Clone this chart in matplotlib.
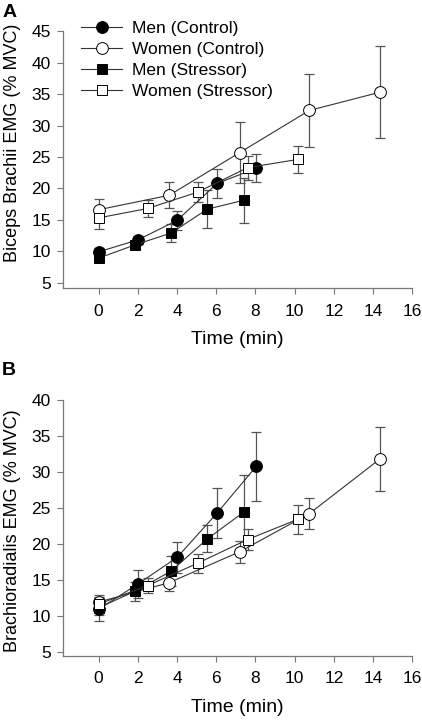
import numpy as np
import matplotlib.pyplot as plt

plt.rcParams['font.family'] = ['Liberation Sans', 'DejaVu Sans']

series = ['Men (Control)', 'Women (Control)', 'Men (Stressor)', 'Women (Stressor)']

# Panel A - biceps brachii
a_men_ctrl_t = [0, 2.0, 4.0, 6.05, 8.05]
a_men_ctrl_y = [9.9, 11.8, 14.9, 20.8, 23.2]
a_men_ctrl_e = [0.6, 0.7, 1.5, 2.3, 2.2]

a_wom_ctrl_t = [0, 3.6, 7.2, 10.75, 14.35]
a_wom_ctrl_y = [16.6, 18.9, 25.7, 32.4, 35.3]
a_wom_ctrl_e = [1.7, 2.1, 4.8, 5.8, 7.3]

a_men_str_t = [0, 1.85, 3.7, 5.55, 7.4]
a_men_str_y = [8.9, 11.0, 12.9, 16.7, 18.1]
a_men_str_e = [0.6, 0.7, 1.4, 3.0, 3.6]

a_wom_str_t = [0, 2.5, 5.05, 7.6, 10.15]
a_wom_str_y = [15.3, 16.8, 19.4, 23.3, 24.6]
a_wom_str_e = [1.8, 1.4, 1.6, 1.9, 2.2]

# Panel B - brachioradialis
b_men_ctrl_t = [0, 2.0, 4.0, 6.05, 8.05]
b_men_ctrl_y = [10.9, 14.4, 18.1, 24.3, 30.8]
b_men_ctrl_e = [1.6, 1.9, 2.1, 3.5, 4.8]

b_wom_ctrl_t = [0, 3.6, 7.2, 10.75, 14.35]
b_wom_ctrl_y = [11.9, 14.6, 18.9, 24.2, 31.8]
b_wom_ctrl_e = [1.0, 1.2, 1.5, 2.2, 4.4]

b_men_str_t = [0, 1.85, 3.7, 5.55, 7.4]
b_men_str_y = [11.1, 13.4, 16.2, 20.7, 24.4]
b_men_str_e = [1.0, 1.3, 2.1, 1.9, 5.2]

b_wom_str_t = [0, 2.5, 5.05, 7.6, 10.15]
b_wom_str_y = [11.6, 14.2, 17.3, 20.6, 23.4]
b_wom_str_e = [1.0, 1.0, 1.3, 1.5, 2.0]

styles = [('o', 'black', 8.5), ('o', 'white', 8.5), ('s', 'black', 7.5), ('s', 'white', 7.5)]

panel_a = [(a_men_ctrl_t, a_men_ctrl_y, a_men_ctrl_e),
           (a_wom_ctrl_t, a_wom_ctrl_y, a_wom_ctrl_e),
           (a_men_str_t, a_men_str_y, a_men_str_e),
           (a_wom_str_t, a_wom_str_y, a_wom_str_e)]
panel_b = [(b_men_ctrl_t, b_men_ctrl_y, b_men_ctrl_e),
           (b_wom_ctrl_t, b_wom_ctrl_y, b_wom_ctrl_e),
           (b_men_str_t, b_men_str_y, b_men_str_e),
           (b_wom_str_t, b_wom_str_y, b_wom_str_e)]

fig = plt.figure(figsize=(4.22, 7.22), dpi=100)
ax_a = fig.add_axes([0.1500, 0.6007, 0.8270, 0.3560])
ax_b = fig.add_axes([0.1500, 0.0914, 0.8270, 0.3546])


def draw_panel(ax, data, ylabel, ylim, yticks, label_y):
    handles = []
    for (t, y, e), (mk, fc, ms), name in zip(data, styles, series):
        ax.errorbar(t, y, yerr=e, fmt='none', ecolor='#555555', elinewidth=0.9,
                    capsize=3.5, capthick=0.9, zorder=1)
        h, = ax.plot(t, y, marker=mk, markerfacecolor=fc, markeredgecolor='black',
                     markeredgewidth=0.7, markersize=ms, color='#333333',
                     linewidth=0.8, label=name, zorder=2)
        handles.append(h)
    ax.set_xlim(-1.8, 16)
    ax.set_ylim(*ylim)
    ax.set_xticks(np.arange(0, 17, 2))
    ax.set_yticks(yticks)
    for side in ['top', 'right']:
        ax.spines[side].set_visible(False)
    for side in ['left', 'bottom']:
        ax.spines[side].set_color('#777777')
        ax.spines[side].set_linewidth(0.9)
    ax.tick_params(direction='out', length=4, width=0.8, color='#777777',
                   labelsize=12.5, pad=5)
    ax.tick_params(axis='x', pad=7)
    ax.set_xlabel('Time (min)', fontsize=14, labelpad=9)
    ax.set_ylabel(ylabel, fontsize=13)
    ax.yaxis.set_label_coords(-0.122, label_y)
    return handles


handles = draw_panel(ax_a, panel_a, 'Biceps Brachii EMG (% MVC)', (4.1, 45),
                     np.arange(5, 46, 5), 0.565)
draw_panel(ax_b, panel_b, 'Brachioradialis EMG (% MVC)', (4.4, 40),
           np.arange(5, 41, 5), 0.49)

ax_a.legend(handles=handles, loc='upper left', bbox_to_anchor=(0.05, 1.04),
            frameon=False, fontsize=12.5, handlelength=2.4, handletextpad=0.55,
            labelspacing=0.34, borderpad=0, borderaxespad=0)

fig.text(0.005, 0.995, 'A', fontsize=14, fontweight='bold', va='top')
fig.text(0.005, 0.498, 'B', fontsize=14, fontweight='bold', va='top')

fig.savefig('out.png', dpi=100)
